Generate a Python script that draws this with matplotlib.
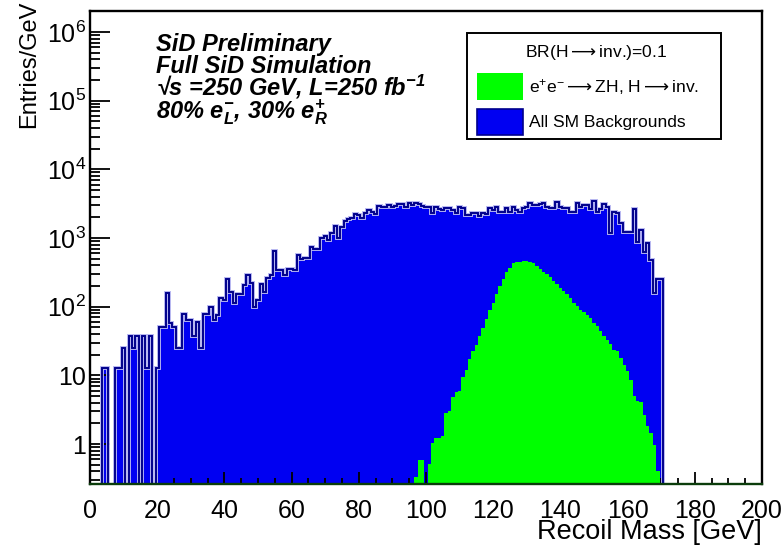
import numpy as np
import matplotlib
matplotlib.use("Agg")
import matplotlib.pyplot as plt
from matplotlib.patches import Rectangle
from matplotlib.ticker import (FixedLocator, LogLocator, MultipleLocator, FuncFormatter,
                               NullFormatter)

plt.rcParams["font.family"] = ["Liberation Sans", "DejaVu Sans"]
plt.rcParams["mathtext.fontset"] = "custom"
plt.rcParams["mathtext.rm"] = "Liberation Sans"
plt.rcParams["mathtext.it"] = "Liberation Sans:italic"
plt.rcParams["mathtext.bf"] = "Liberation Sans:bold"
plt.rcParams["mathtext.sf"] = "DejaVu Sans"  # used for the long arrow glyph

# ---- data (1 GeV bins, values per bin centre) ----------------------------
bkg_first_center = 0
bkg_counts = [
    0, 0, 0, 0, 12.6, 12.6, 0, 0, 12.6, 12.6,                      # 0-9
    25.3, 0, 37.9, 25.3, 37.9, 0, 37.9, 12.6, 37.9, 0,             # 10-19
    12.6, 51, 51, 156, 58, 51, 25, 25, 77, 64,                     # 20-29
    64, 38, 60, 25, 77, 77, 100, 64, 75, 132,                      # 30-39
    125, 250, 161, 112, 153, 153, 206, 288, 218, 100,              # 40-49
    124, 214, 165, 263, 294, 651, 341, 341, 288, 352,              # 50-59
    352, 341, 574, 492, 515, 515, 745, 689, 689, 985,              # 60-69
    1076, 933, 1164, 1506, 985, 1457, 1762, 1884, 1927, 2228,      # 70-79
    2155, 1968, 2280, 2552, 2360, 2228, 2911, 2786, 2850, 3013,    # 80-89
    2786, 2911, 3080, 3080, 2850, 3187, 3013, 3187, 3080, 2911,    # 90-99
    2845, 2845, 2329, 2783, 2630, 2600, 2690, 2690, 2545, 2277,    # 100-109
    2845, 2690, 2153, 2153, 2277, 2277, 2081, 2329, 2227, 2690,    # 110-119
    2545, 2783, 2410, 2410, 2690, 2410, 2850, 2545, 2410, 2690,    # 120-129
    2850, 3258, 3013, 3013, 3118, 3184, 2850, 2690, 2690, 3373,    # 130-139
    2850, 2690, 2690, 2410, 2410, 3258, 2850, 3013, 3013, 2608,    # 140-149
    3443, 2410, 2608, 3118, 2850, 1165, 2408, 2328, 1630, 1233,    # 150-159
    1233, 1233, 2606, 880, 1303, 628, 850, 477, 156, 250,          # 160-169
    250,                                                           # 170
]

sig_first_center = 97
sig_counts = [
    0.33, 0.58, 0.58, 0, 0.52, 1.02, 1.24, 1.24, 1.31,             # 97-105
    2.8, 3.0, 4.9, 5.8, 6.0, 9.4, 11.9, 17.3, 22.6, 27.6,          # 106-115
    37.7, 49, 66, 89, 114, 152, 199, 252, 316, 369,                # 116-125
    427, 451, 451, 461, 461, 441, 426, 394, 352, 322,              # 126-135
    298, 270, 236, 211, 189, 169, 151, 132, 115, 103,              # 136-145
    91, 84, 75, 68, 57, 52, 44, 37.3, 32.6, 28.5,                  # 146-155
    23.4, 22.6, 17.7, 14.1, 11.6, 8.5, 5.0, 4.2, 4.1, 2.64,        # 156-165
    1.83, 1.46, 0.97, 0.40,                                        # 166-169
]

x_range = (0, 200)
y_range = (0.262, 2.02e6)
x_ticks = list(range(0, 201, 20))
y_ticks = [1, 10, 1e2, 1e3, 1e4, 1e5, 1e6]
x_label = "Recoil Mass [GeV]"
y_label = "Entries/GeV"
info_lines = [
    "SiD Preliminary",
    "Full SiD Simulation",
    "\u221As =250 GeV, L=250 fb$^{\\mathdefault{-1}}$",
    r"80% e$^{\mathdefault{-}}_{\mathdefault{L}}$, 30% e$^{\mathdefault{+}}_{\mathdefault{R}}$",
]
ARROW = r"$\mathsf{\longrightarrow}$"
legend_header = f"BR(H{ARROW}inv.)=0.1"
legend_labels = [f"e$^{{+}}$e$^{{-}}${ARROW}ZH, H{ARROW}inv.", "All SM Backgrounds"]

# ---- style ---------------------------------------------------------------
W, H = 784, 545
BLUE = "#0000f2"
NAVY = "#00008c"
HALO = "#b4b4f0"
GREEN = "#00ff00"
FLOOR = 1e-3  # baseline below the visible log range


def fx(x):
    return x / W


def fy(y):
    return 1 - y / H


def edges_for(first_center, n):
    return np.arange(n + 1) + first_center - 0.5


bkg = np.asarray(bkg_counts, float)
sig = np.asarray(sig_counts, float)
bkg_edges = edges_for(bkg_first_center, len(bkg))
sig_edges = edges_for(sig_first_center, len(sig))
bkg_plot = np.where(bkg > 0, bkg, FLOOR)
sig_plot = np.where(sig > 0, sig, FLOOR)

fig = plt.figure(figsize=(W / 100, H / 100), dpi=100)
ax = fig.add_axes([fx(90), fy(484), fx(762) - fx(90), fy(11) - fy(484)])
ax.set_yscale("log")

ax.stairs(bkg_plot, bkg_edges, fill=True, baseline=FLOOR, color=BLUE, lw=0, zorder=1)
ax.stairs(bkg_plot, bkg_edges, baseline=FLOOR, color=HALO, lw=2.8, zorder=2)
ax.stairs(bkg_plot, bkg_edges, baseline=FLOOR, color=NAVY, lw=1.4, zorder=3)
ax.stairs(sig_plot, sig_edges, fill=True, baseline=FLOOR, color=GREEN, lw=0, zorder=4)

ax.set_xlim(*x_range)
ax.set_ylim(*y_range)

ax.xaxis.set_major_locator(FixedLocator(x_ticks))
ax.xaxis.set_minor_locator(MultipleLocator(5))
ax.yaxis.set_major_locator(FixedLocator(y_ticks))
ax.yaxis.set_minor_locator(LogLocator(base=10, subs=np.arange(2, 10), numticks=20))
ax.yaxis.set_minor_formatter(NullFormatter())


def ylab(v, pos):
    e = int(round(np.log10(v)))
    if e == 0:
        return "1"
    if e == 1:
        return "10"
    return r"$\mathdefault{10^{%d}}$" % e


ax.yaxis.set_major_formatter(FuncFormatter(ylab))

ax.tick_params(which="both", direction="in", top=False, right=False, width=1.3,
               labelsize=18, zorder=10)
ax.tick_params(axis="y", which="major", length=14.5, pad=3)
ax.tick_params(axis="y", which="minor", length=7.5)
ax.tick_params(axis="x", which="major", length=8.7, pad=10.5)
ax.tick_params(axis="x", which="minor", length=4.4)

for s in ax.spines.values():
    s.set_linewidth(1.7)
    s.set_zorder(10)
ax.spines["bottom"].set_color("#0b3d0b")

ax.set_xlabel(x_label, fontsize=19.5, loc="right")
ax.xaxis.set_label_coords(1.0, -0.075)
ax.set_ylabel(y_label, fontsize=17, loc="top")
ax.yaxis.set_label_coords(-0.074, 1.021)

# ---- info text -----------------------------------------------------------
for i, line in enumerate(info_lines):
    fig.text(fx(156), fy(51 + 22.3 * i), line, fontsize=17, fontweight="bold",
             fontstyle="italic", ha="left", va="baseline")

# ---- legend --------------------------------------------------------------
fig.add_artist(Rectangle((fx(467), fy(139)), fx(721) - fx(467), fy(33) - fy(139),
                         transform=fig.transFigure, fc="white", ec="black", lw=1.4,
                         zorder=20))
fig.text(fx(596), fy(52), legend_header, fontsize=12.6, ha="center", va="center",
         zorder=21)
fig.add_artist(Rectangle((fx(477), fy(100)), fx(523) - fx(477), fy(73) - fy(100),
                         transform=fig.transFigure, fc=GREEN, ec="none", zorder=21))
fig.add_artist(Rectangle((fx(477), fy(135)), fx(523) - fx(477), fy(109) - fy(135),
                         transform=fig.transFigure, fc=BLUE, ec=NAVY, lw=1.2,
                         zorder=21))
fig.text(fx(529), fy(87), legend_labels[0], fontsize=12.6, ha="left", va="center",
         zorder=21)
fig.text(fx(529), fy(122), legend_labels[1], fontsize=12.6, ha="left", va="center",
         zorder=21)

fig.savefig("out.png", dpi=100)
